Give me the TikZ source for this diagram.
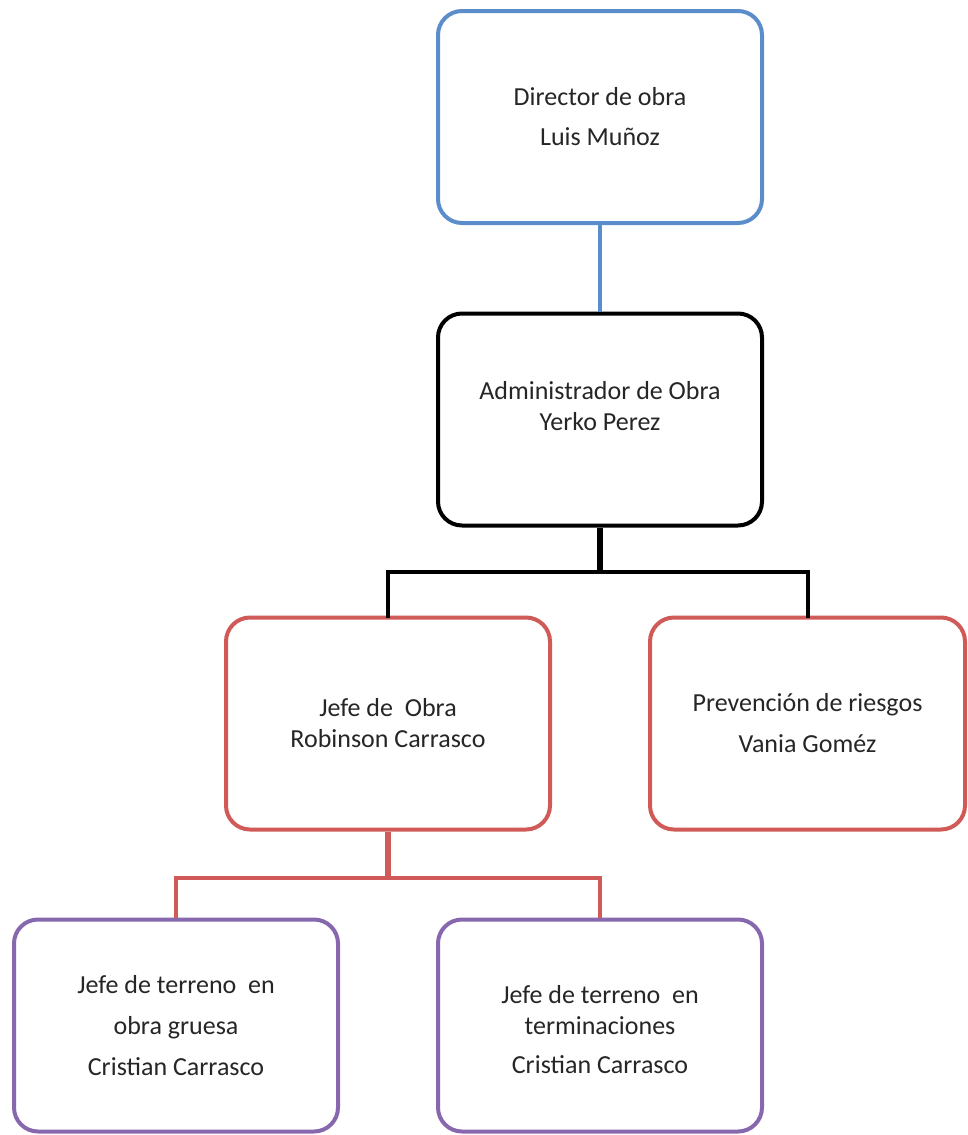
\documentclass[tikz,border=0pt]{standalone}
\usepackage{fontspec}
\setmainfont{Carlito}
\definecolor{oblue}{HTML}{5B8DCB}
\definecolor{ored}{HTML}{D05A57}
\definecolor{opurple}{HTML}{8767AE}
\tikzset{
  box/.style={draw, line width=4pt, rounded corners=24pt, fill=white,
    minimum width=324pt, minimum height=212pt, align=center, inner sep=0pt,
    font=\fontsize{26}{31}\selectfont, text=black!85},
  link/.style={line width=4pt},
}
\begin{document}
\begin{tikzpicture}[x=1pt,y=-1pt]
\useasboundingbox (0,0) rectangle (967,1135);
\node[box, draw=oblue] (dir) at (600,117) {Director de obra\\[9pt]Luis Muñoz};
\node[box, draw=black] (adm) at (600,419.5) {Administrador de Obra\\Yerko Perez\\[-14pt]\strut};
\node[box, draw=ored] (jef) at (388,723.5) {Jefe de\ \ Obra\\Robinson Carrasco};
\node[box, draw=ored, minimum width=315pt] (pre) at (807.5,723.5) {Prevención de riesgos\\[10pt]Vania Goméz};
\node[box, draw=opurple] (gru) at (176,1025.5) {Jefe de terreno\hspace{0.45em}en\\[10pt]obra gruesa\\[10pt]Cristian Carrasco};
\node[box, draw=opurple] (ter) at (600,1025.5) {\strut\\[-27pt]Jefe de terreno\hspace{0.45em}en\\terminaciones\\[8pt]Cristian Carrasco};
\coordinate (bk) at (600,572);
\coordinate (rd) at (388,878);
\draw[link, draw=oblue] (dir.south) -- (adm.north);
\draw[line width=6pt] (adm.south) -- (bk);
\draw[link, line cap=rect] (jef.north) |- (bk) -| (pre.north);
\draw[line width=6pt, draw=ored] (jef.south) -- (rd);
\draw[link, draw=ored] (gru.north) |- (rd) -| (ter.north);
\end{tikzpicture}
\end{document}
